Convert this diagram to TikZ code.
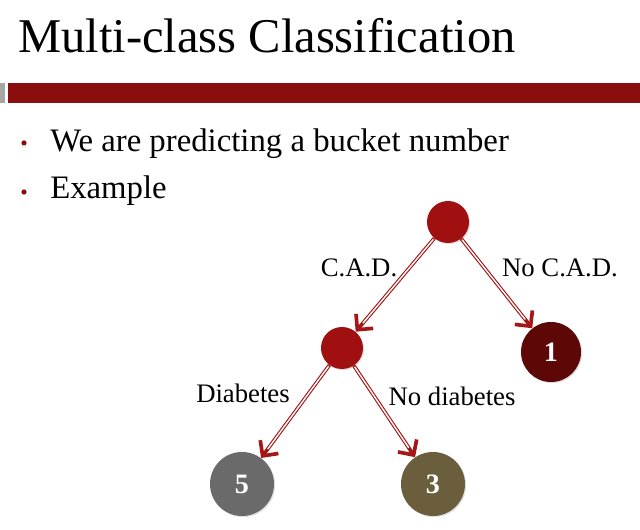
\documentclass[tikz,border=0pt]{standalone}
\usepackage{fontspec}
\setmainfont{Liberation Serif}
\usetikzlibrary{arrows.meta,shadows}
\definecolor{barred}{RGB}{138,14,14}
\definecolor{nodered}{RGB}{160,16,16}
\definecolor{leafred}{RGB}{94,7,7}
\definecolor{leafgray}{RGB}{106,106,106}
\definecolor{leafolive}{RGB}{106,94,60}
\definecolor{arrowred}{RGB}{165,22,22}
\begin{document}
\begin{tikzpicture}[x=0.025cm,y=-0.025cm,
  split/.style={circle,fill=nodered,minimum size=1.05cm,inner sep=0pt,
    drop shadow={shadow xshift=0.8pt,shadow yshift=-0.8pt,opacity=0.25}},
  leaf/.style={circle,minimum size=1.6cm,inner sep=0pt,text=white,
    font=\fontsize{20}{22}\selectfont\bfseries,
    drop shadow={shadow xshift=0.8pt,shadow yshift=-0.8pt,opacity=0.25}},
  branch/.style={draw=arrowred,line width=2.6pt,
    -{Straight Barb[length=8pt,width=16pt,line width=2.6pt]}},
  core/.style={draw=white,line width=1pt,shorten >=8pt,shorten <=1pt},
  lbl/.style={font=\fontsize{19}{22}\selectfont}]
  \useasboundingbox (0,0) rectangle (640,530);
  % title and bar
  \node[anchor=base west,inner sep=0pt,font=\fontsize{34.5}{38}\selectfont] (title) at (18,53) {Multi-class Classification};
  \fill[gray!70] (0,83) rectangle (5,103);
  \fill[barred] (8,83) rectangle (640,103);
  % bullets
  \fill[barred] (24,143) circle (2.6);
  \fill[barred] (24,192) circle (2.6);
  \node[anchor=base west,inner sep=0pt,font=\fontsize{23.3}{26}\selectfont] (pred) at (50,152) {We are predicting a bucket number};
  \node[anchor=base west,inner sep=0pt,font=\fontsize{23.3}{26}\selectfont] (ex) at (50,199) {Example};
  % tree
  \node[split] (root) at (448,222) {};
  \node[split] (cad) at (342,348) {};
  \node[leaf,fill=leafred,minimum size=1.5cm] (one) at (551,352) {1};
  \node[leaf,fill=leafgray] (five) at (242,484) {5};
  \node[leaf,fill=leafolive] (three) at (433,484) {3};
  \foreach \a/\b in {root/cad,root/one,cad/five,cad/three}{
    \draw[branch] (\a) -- (\b);
    \draw[core] (\a) -- (\b);
  }
  \node[lbl] (lcad) at (359,268) {C.A.D.};
  \node[lbl] (lnocad) at (560,268) {No C.A.D.};
  \node[lbl] (ldia) at (243,393) {Diabetes};
  \node[lbl] (lnodia) at (452,396) {No diabetes};
\end{tikzpicture}
\end{document}
